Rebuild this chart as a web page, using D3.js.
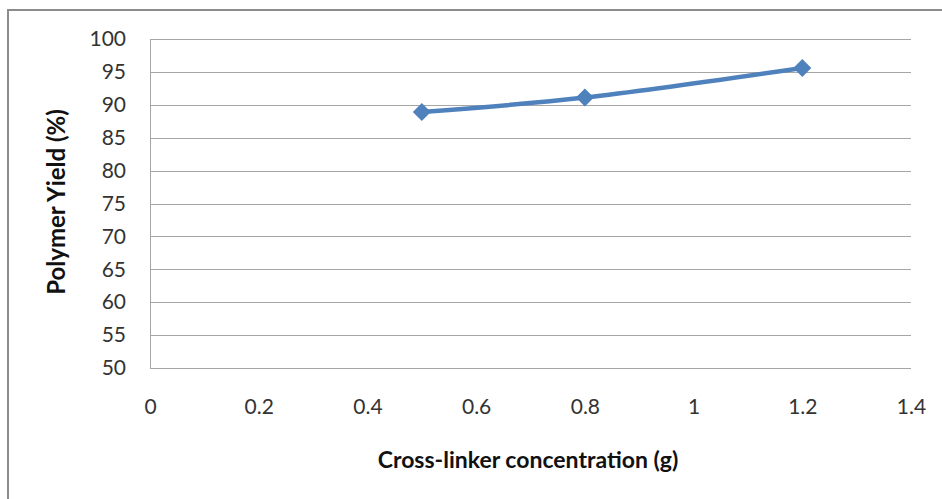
<!DOCTYPE html>
<html><head><meta charset="utf-8">
<script src="https://cdn.jsdelivr.net/npm/d3@7"></script>
<style>body{margin:0;background:#fff}svg{display:block}</style>
</head><body>
<svg id="c" width="942" height="499"></svg>
<script>
const xValues = [0.5, 0.8, 1.2];
const yieldValues = [88.9, 91.1, 95.6];
const xTicks = [0, 0.2, 0.4, 0.6, 0.8, 1, 1.2, 1.4];
const yTicks = [50, 55, 60, 65, 70, 75, 80, 85, 90, 95, 100];
const xTitle = "Cross-linker concentration (g)";
const yTitle = "Polymer Yield (%)";

const svg = d3.select("#c");
const L = 150, R = 911, T = 39, B = 368;
const x = d3.scaleLinear().domain([0, 1.4]).range([L, R]);
const y = d3.scaleLinear().domain([50, 100]).range([B, T]);
const font = "Lato, Carlito, 'Open Sans', sans-serif";

// outer border
svg.append("rect").attr("x", 8).attr("y", 10).attr("width", 960).attr("height", 520)
  .attr("fill", "none").attr("stroke", "#8c8c8c").attr("stroke-width", 2);

// gridlines
const yAxis = d3.axisLeft(y).tickValues(yTicks).tickSize(-(R - L)).tickSizeOuter(0).tickPadding(24);
const gy = svg.append("g").attr("transform", `translate(${L},0)`).call(yAxis);
gy.select(".domain").attr("stroke", "#a6a6a6");
gy.selectAll(".tick line").attr("stroke", "#a6a6a6").attr("shape-rendering", "crispEdges");
gy.selectAll(".tick text").attr("font-family", font).attr("font-size", 21).attr("fill", "#333");

const xAxis = d3.axisBottom(x).tickValues(xTicks).tickSize(0).tickPadding(31).tickFormat(d3.format("~g"));
const gx = svg.append("g").attr("transform", `translate(0,${B})`).call(xAxis);
gx.select(".domain").remove();
gx.selectAll(".tick text").attr("font-family", font).attr("font-size", 21).attr("fill", "#333");

// line
const pts = xValues.map((v, i) => [x(v), y(yieldValues[i])]);
svg.append("path").datum(pts)
  .attr("d", d3.line().curve(d3.curveCatmullRom))
  .attr("fill", "none").attr("stroke", "#4f81bd").attr("stroke-width", 4.5);

const diamond = d3.symbol().type(d3.symbolSquare).size(162);
svg.selectAll(".m").data(pts).join("path")
  .attr("d", diamond)
  .attr("transform", d => `translate(${d[0]},${d[1]}) rotate(45)`)
  .attr("fill", "#4f81bd");

// titles
svg.append("text").attr("x", 528).attr("y", 468)
  .attr("text-anchor", "middle").attr("font-family", font).attr("font-weight", "bold")
  .attr("font-size", 23).attr("fill", "#111").text(xTitle);
svg.append("text").attr("transform", `translate(65,202) rotate(-90)`)
  .attr("text-anchor", "middle").attr("font-family", font).attr("font-weight", "bold")
  .attr("font-size", 24).attr("fill", "#111").text(yTitle);
</script>
</body></html>
